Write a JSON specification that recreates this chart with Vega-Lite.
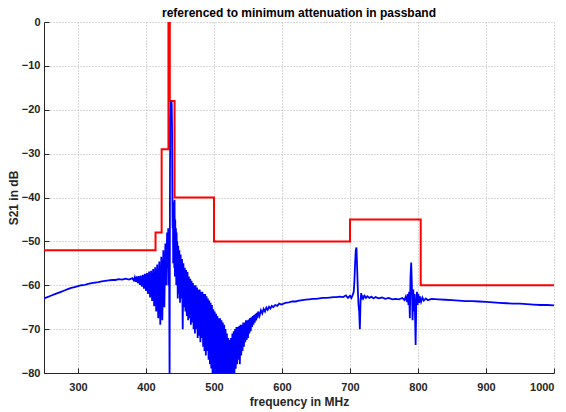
{
  "$schema": "https://vega.github.io/schema/vega-lite/v6.json",
  "width": 510,
  "height": 351,
  "autosize": "none",
  "padding": {"left": 44, "top": 22, "right": 12, "bottom": 39},
  "background": "white",
  "title": {"text": "referenced to minimum attenuation in passband", "font": "Liberation Sans", "fontSize": 12, "fontWeight": "bold", "color": "#000000", "offset": -4},
  "config": {
    "view": {"stroke": null},
    "axis": {
      "domainColor": "#262626", "domainWidth": 1,
      "tickColor": "#262626", "tickWidth": 1,
      "labelFont": "Liberation Sans", "labelFontSize": 11, "labelFontWeight": "bold", "labelColor": "#262626",
      "titleFont": "Liberation Sans", "titleFontSize": 12, "titleFontWeight": "bold", "titleColor": "#262626",
      "gridColor": "#b4b4b4", "gridDash": [1, 2], "gridWidth": 1
    }
  },
  "datasets": {
    "mask": [
      {"f": 250, "m": -52}, {"f": 414, "m": -48}, {"f": 423, "m": -29}, {"f": 433, "m": 0}, {"f": 435, "m": -18},
      {"f": 442, "m": -40}, {"f": 500, "m": -50}, {"f": 700, "m": -45}, {"f": 804, "m": -60}, {"f": 1000, "m": -60}
    ],
    "s21": [
      {"f": 250, "s": -63.0}, {"f": 255, "s": -62.7}, {"f": 260, "s": -62.4}, {"f": 265, "s": -62.1}, {"f": 270, "s": -61.8},
      {"f": 275, "s": -61.5}, {"f": 280, "s": -61.2}, {"f": 285, "s": -60.9}, {"f": 290, "s": -60.6}, {"f": 295, "s": -60.4},
      {"f": 300, "s": -60.2}, {"f": 305, "s": -60.0}, {"f": 310, "s": -59.9}, {"f": 315, "s": -59.7}, {"f": 320, "s": -59.5},
      {"f": 325, "s": -59.4}, {"f": 330, "s": -59.3}, {"f": 335, "s": -59.1}, {"f": 340, "s": -59.0}, {"f": 345, "s": -58.9},
      {"f": 350, "s": -58.8}, {"f": 355, "s": -58.8}, {"f": 360, "s": -58.6}, {"f": 365, "s": -58.7}, {"f": 370, "s": -58.5},
      {"f": 375, "s": -58.7}, {"f": 380, "s": -58.4}, {"f": 382, "s": -58.9}, {"f": 383.5, "s": -58.2}, {"f": 385, "s": -59.2},
      {"f": 386.5, "s": -58.0}, {"f": 388, "s": -59.5}, {"f": 389.5, "s": -57.9}, {"f": 391, "s": -59.9}, {"f": 392.5, "s": -57.8},
      {"f": 394, "s": -60.3}, {"f": 395.5, "s": -57.6}, {"f": 397, "s": -60.8}, {"f": 398.5, "s": -57.4}, {"f": 400, "s": -61.3},
      {"f": 401.5, "s": -57.2}, {"f": 403, "s": -62.0}, {"f": 404.5, "s": -56.9}, {"f": 406, "s": -62.8}, {"f": 407.5, "s": -56.7},
      {"f": 409, "s": -63.6}, {"f": 410.5, "s": -56.3}, {"f": 412, "s": -64.8}, {"f": 413.5, "s": -55.9}, {"f": 415, "s": -66.0},
      {"f": 416.5, "s": -55.3}, {"f": 418, "s": -67.5}, {"f": 419.5, "s": -54.6}, {"f": 421, "s": -69.0}, {"f": 422.5, "s": -53.5},
      {"f": 424, "s": -68.0}, {"f": 425.5, "s": -52.0}, {"f": 427, "s": -65.0}, {"f": 428.5, "s": -50.5}, {"f": 430, "s": -60.0},
      {"f": 431, "s": -48.0}, {"f": 432, "s": -56.0}, {"f": 432.7, "s": -47.0}, {"f": 433.3, "s": -60.0},
      {"f": 434, "s": -55.0}, {"f": 434.7, "s": -83.0}, {"f": 435.2, "s": -40.0},
      {"f": 435.6, "s": -22.0}, {"f": 436, "s": -18.5}, {"f": 437, "s": -18.0}, {"f": 437.8, "s": -18.6}, {"f": 438.3, "s": -24.0},
      {"f": 438.8, "s": -40.0}, {"f": 439.2, "s": -47.0}, {"f": 439.6, "s": -42.0}, {"f": 440, "s": -55.0}, {"f": 440.4, "s": -44.0},
      {"f": 440.8, "s": -52.0}, {"f": 441.2, "s": -41.0}, {"f": 441.6, "s": -56.0}, {"f": 442, "s": -40.5}, {"f": 442.5, "s": -58.0},
      {"f": 443, "s": -45.0}, {"f": 443.5, "s": -56.0}, {"f": 444, "s": -47.0}, {"f": 444.5, "s": -60.0}, {"f": 445, "s": -48.0},
      {"f": 445.5, "s": -57.0}, {"f": 446, "s": -50.0}, {"f": 446.7, "s": -63.0}, {"f": 447.4, "s": -51.0}, {"f": 448, "s": -62.0},
      {"f": 449, "s": -52.0}, {"f": 450, "s": -64.0}, {"f": 451, "s": -53.0}, {"f": 452, "s": -63.0}, {"f": 453, "s": -54.0},
      {"f": 454, "s": -70.0}, {"f": 455, "s": -55.0}, {"f": 456, "s": -65.0}, {"f": 457, "s": -56.0}, {"f": 458, "s": -66.0},
      {"f": 459, "s": -56.5}, {"f": 460, "s": -67.0}, {"f": 461, "s": -57.0}, {"f": 462, "s": -68.0}, {"f": 463, "s": -58.0},
      {"f": 464, "s": -67.5}, {"f": 465, "s": -58.5}, {"f": 466, "s": -69.0}, {"f": 467, "s": -59.0}, {"f": 468, "s": -68.5},
      {"f": 469, "s": -59.5}, {"f": 470, "s": -70.0}, {"f": 471, "s": -60.0}, {"f": 472, "s": -71.0}, {"f": 473, "s": -60.0},
      {"f": 474, "s": -70.0}, {"f": 475, "s": -60.5}, {"f": 476, "s": -72.0}, {"f": 477, "s": -61.0}, {"f": 478, "s": -71.5},
      {"f": 479, "s": -61.0}, {"f": 480, "s": -73.0}, {"f": 481, "s": -61.5}, {"f": 482, "s": -72.0}, {"f": 483, "s": -61.5},
      {"f": 484, "s": -74.0}, {"f": 485, "s": -62.0}, {"f": 486, "s": -75.0}, {"f": 487, "s": -62.0}, {"f": 488, "s": -76.0},
      {"f": 489, "s": -62.5}, {"f": 490, "s": -75.0}, {"f": 491, "s": -63.0}, {"f": 492, "s": -77.0}, {"f": 493, "s": -63.5},
      {"f": 494, "s": -78.0}, {"f": 495, "s": -64.0}, {"f": 496, "s": -79.0}, {"f": 497, "s": -64.5}, {"f": 498, "s": -82.0},
      {"f": 499, "s": -65.5}, {"f": 500, "s": -82.0}, {"f": 501, "s": -66.0}, {"f": 502, "s": -82.0}, {"f": 503, "s": -66.5},
      {"f": 504, "s": -82.0}, {"f": 505, "s": -67.0}, {"f": 506, "s": -82.0}, {"f": 507, "s": -67.5}, {"f": 508, "s": -82.0},
      {"f": 509, "s": -67.5}, {"f": 510, "s": -82.0}, {"f": 511, "s": -68.0}, {"f": 512, "s": -82.0}, {"f": 513, "s": -68.5},
      {"f": 514, "s": -82.0}, {"f": 515, "s": -69.0}, {"f": 516, "s": -82.0}, {"f": 517, "s": -70.0}, {"f": 518, "s": -82.0},
      {"f": 519, "s": -71.0}, {"f": 520, "s": -82.0}, {"f": 521, "s": -72.0}, {"f": 522, "s": -82.0}, {"f": 523, "s": -72.5},
      {"f": 524, "s": -82.0}, {"f": 525, "s": -72.0}, {"f": 526, "s": -82.0}, {"f": 527, "s": -71.0}, {"f": 528, "s": -82.0},
      {"f": 529, "s": -70.5}, {"f": 530, "s": -81.0}, {"f": 531, "s": -70.0}, {"f": 532, "s": -79.0}, {"f": 533, "s": -69.5},
      {"f": 534, "s": -78.0}, {"f": 535, "s": -69.5}, {"f": 536, "s": -77.0}, {"f": 537, "s": -69.3}, {"f": 538, "s": -78.0},
      {"f": 539, "s": -69.0}, {"f": 540, "s": -76.0}, {"f": 541, "s": -69.0}, {"f": 542, "s": -75.0}, {"f": 543, "s": -68.5},
      {"f": 544, "s": -74.0}, {"f": 545, "s": -68.5}, {"f": 546, "s": -73.0}, {"f": 547, "s": -68.0}, {"f": 548, "s": -72.5},
      {"f": 549, "s": -68.0}, {"f": 550, "s": -72.0}, {"f": 551, "s": -67.8}, {"f": 552, "s": -71.0}, {"f": 553, "s": -67.5},
      {"f": 554, "s": -70.5}, {"f": 555, "s": -67.3}, {"f": 556, "s": -69.5}, {"f": 557, "s": -67.0}, {"f": 558, "s": -69.0},
      {"f": 559, "s": -66.8}, {"f": 560, "s": -68.5}, {"f": 561, "s": -66.5}, {"f": 562, "s": -68.0}, {"f": 563, "s": -66.3},
      {"f": 564, "s": -67.5}, {"f": 565, "s": -66.0}, {"f": 567, "s": -67.0}, {"f": 569, "s": -65.7}, {"f": 571, "s": -66.4},
      {"f": 573, "s": -65.4}, {"f": 575, "s": -66.0}, {"f": 577, "s": -65.1}, {"f": 579, "s": -65.6}, {"f": 581, "s": -64.9},
      {"f": 583, "s": -65.3}, {"f": 585, "s": -64.7}, {"f": 587, "s": -65.0}, {"f": 590, "s": -64.5}, {"f": 593, "s": -64.7},
      {"f": 596, "s": -64.2}, {"f": 599, "s": -64.4}, {"f": 605, "s": -64.0}, {"f": 610, "s": -63.9}, {"f": 615, "s": -63.7},
      {"f": 620, "s": -63.7}, {"f": 625, "s": -63.5}, {"f": 630, "s": -63.4}, {"f": 635, "s": -63.3}, {"f": 640, "s": -63.2},
      {"f": 645, "s": -63.1}, {"f": 650, "s": -63.1}, {"f": 655, "s": -63.0}, {"f": 660, "s": -62.9}, {"f": 665, "s": -62.9},
      {"f": 670, "s": -62.8}, {"f": 675, "s": -62.7}, {"f": 680, "s": -62.7}, {"f": 685, "s": -62.6}, {"f": 690, "s": -62.7},
      {"f": 694, "s": -62.3}, {"f": 697, "s": -62.9}, {"f": 700, "s": -62.4}, {"f": 702, "s": -62.9}, {"f": 704, "s": -62.2},
      {"f": 705.5, "s": -61.5}, {"f": 706.5, "s": -59.0}, {"f": 707.5, "s": -55.0}, {"f": 708.5, "s": -52.0}, {"f": 709.5, "s": -51.4},
      {"f": 710.5, "s": -56.0}, {"f": 711.5, "s": -61.0}, {"f": 712.5, "s": -64.5}, {"f": 713.5, "s": -66.0}, {"f": 714.5, "s": -70.0},
      {"f": 715.5, "s": -63.5}, {"f": 716.5, "s": -61.8}, {"f": 717.5, "s": -63.2}, {"f": 718.5, "s": -62.3}, {"f": 719.5, "s": -63.0},
      {"f": 721.5, "s": -62.4}, {"f": 723.5, "s": -62.9}, {"f": 725.5, "s": -62.5}, {"f": 728.5, "s": -62.9}, {"f": 731.5, "s": -62.6},
      {"f": 734.5, "s": -63.0}, {"f": 737.5, "s": -62.7}, {"f": 742, "s": -63.0}, {"f": 747, "s": -62.8}, {"f": 752, "s": -63.1},
      {"f": 757, "s": -62.9}, {"f": 762, "s": -63.2}, {"f": 767, "s": -63.1}, {"f": 772, "s": -63.2}, {"f": 777, "s": -62.9},
      {"f": 780, "s": -63.4}, {"f": 782, "s": -62.6}, {"f": 784, "s": -63.8}, {"f": 785, "s": -62.0}, {"f": 786, "s": -64.5},
      {"f": 787, "s": -61.5}, {"f": 788, "s": -67.5}, {"f": 789, "s": -58.0}, {"f": 790, "s": -54.8}, {"f": 791, "s": -60.0},
      {"f": 792, "s": -68.0}, {"f": 793, "s": -61.0}, {"f": 794, "s": -66.0}, {"f": 795, "s": -62.0}, {"f": 796.5, "s": -73.6},
      {"f": 797.5, "s": -64.0}, {"f": 798.5, "s": -61.5}, {"f": 799.5, "s": -64.5}, {"f": 800.5, "s": -62.0}, {"f": 801.5, "s": -64.0},
      {"f": 802.5, "s": -62.5}, {"f": 804.5, "s": -63.8}, {"f": 806.5, "s": -62.8}, {"f": 808.5, "s": -63.5}, {"f": 811.5, "s": -63.0},
      {"f": 814.5, "s": -63.4}, {"f": 820, "s": -63.1}, {"f": 830, "s": -63.2}, {"f": 840, "s": -63.3}, {"f": 850, "s": -63.4},
      {"f": 860, "s": -63.5}, {"f": 870, "s": -63.6}, {"f": 880, "s": -63.6}, {"f": 890, "s": -63.7}, {"f": 900, "s": -63.8},
      {"f": 910, "s": -63.9}, {"f": 920, "s": -64.0}, {"f": 930, "s": -64.1}, {"f": 940, "s": -64.2}, {"f": 950, "s": -64.2},
      {"f": 960, "s": -64.3}, {"f": 970, "s": -64.4}, {"f": 980, "s": -64.5}, {"f": 990, "s": -64.5}, {"f": 1000, "s": -64.6}
    ]
  },
  "layer": [
    {
      "data": {"name": "mask"},
      "mark": {"type": "line", "color": "#ff0000", "strokeWidth": 2, "interpolate": "step-after", "clip": true},
      "encoding": {
        "x": {"field": "f", "type": "quantitative", "scale": {"domain": [250, 1000], "nice": false, "zero": false},
          "axis": {"title": "frequency in MHz", "format": "d", "values": [300, 400, 500, 600, 700, 800, 900, 1000], "tickSize": -5, "labelPadding": 13, "titlePadding": 4}},
        "y": {"field": "m", "type": "quantitative", "scale": {"domain": [-80, 0], "nice": false, "zero": false},
          "axis": {"title": "S21 in dB", "format": "d", "values": [-80, -70, -60, -50, -40, -30, -20, -10, 0], "tickSize": -5, "labelPadding": 9, "titlePadding": 1}}
      }
    },
    {
      "data": {"name": "s21"},
      "mark": {"type": "line", "color": "#0000ff", "strokeWidth": 1.8, "clip": true},
      "encoding": {
        "x": {"field": "f", "type": "quantitative"},
        "y": {"field": "s", "type": "quantitative"}
      }
    }
  ]
}
